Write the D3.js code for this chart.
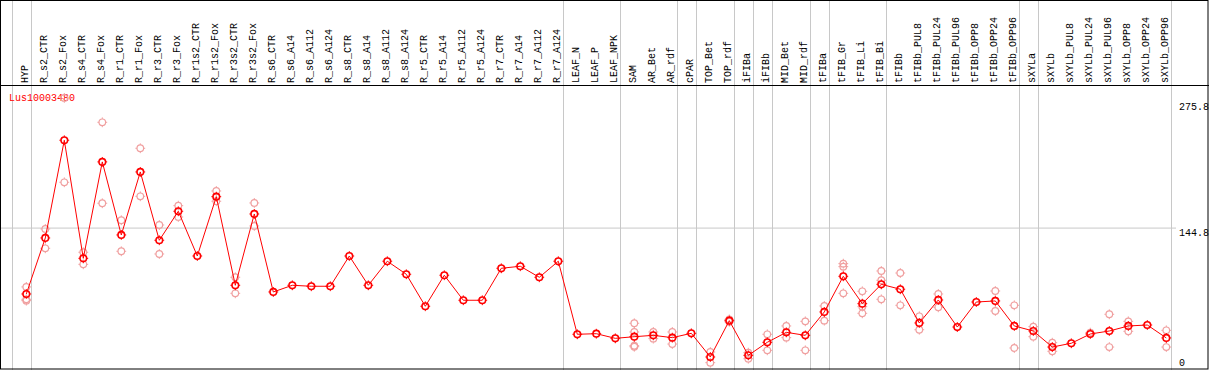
<!DOCTYPE html>
<html>
<head>
<meta charset="utf-8">
<script src="https://cdn.jsdelivr.net/npm/d3@7"></script>
<style>
body { margin: 0; background: #fff; }
text { font-family: "Liberation Mono", "DejaVu Sans Mono", monospace; font-size: 10px; }
</style>
</head>
<body>
<div id="vis"></div>
<script>
var width = 1209, height = 370;

// categories (samples)
var samples = ["HYP","R_s2_CTR","R_s2_Fox","R_s4_CTR","R_s4_Fox","R_r1_CTR","R_r1_Fox","R_r3_CTR","R_r3_Fox",
  "R_r1s2_CTR","R_r1s2_Fox","R_r3s2_CTR","R_r3s2_Fox","R_s6_CTR","R_s6_A14","R_s6_A112","R_s6_A124",
  "R_s8_CTR","R_s8_A14","R_s8_A112","R_s8_A124","R_r5_CTR","R_r5_A14","R_r5_A112","R_r5_A124",
  "R_r7_CTR","R_r7_A14","R_r7_A112","R_r7_A124","LEAF_N","LEAF_P","LEAF_NPK","SAM","AR_Bet","AR_rdf",
  "cPAR","TOP_Bet","TOP_rdf","iFIBa","iFIBb","MID_Bet","MID_rdf","tFIBa","tFIB_Gr","tFIB_Li","tFIB_Bi",
  "tFIBb","tFIBb_PUL8","tFIBb_PUL24","tFIBb_PUL96","tFIBb_OPP8","tFIBb_OPP24","tFIBb_OPP96",
  "sXYLa","sXYLb","sXYLb_PUL8","sXYLb_PUL24","sXYLb_PUL96","sXYLb_OPP8","sXYLb_OPP24","sXYLb_OPP96"];

// mean expression per sample
var means = [76.6,134.6,235.7,113.5,213.3,137.7,202.9,132.2,162.2,115.9,177.3,85.6,159.4,
  78.7,85.6,84.6,84.6,115.9,85.6,110.5,97.0,63.9,96.0,70.1,70.1,103.2,105.3,93.9,110.5,
  34.9,35.5,30.7,32.4,33.8,31.4,35.9,11.4,49.0,13.1,26.6,36.9,33.8,58.0,94.9,66.6,86.6,
  81.5,46.6,70.4,42.4,68.3,69.4,43.5,38.3,21.7,25.6,35.2,38.3,43.5,44.5,31.1];

// replicate values per sample
var reps = [[83.9,71.1,69.7],[143.9,123.9],[192.2,279.5],[119.8,107.3],[254.3,170.5],[152.9,120.8],
  [227.4,177.7],[148.0,118.0],[168.0,156.3],[],[183.2,172.6],[93.9,77.3],[170.8,147.0],
  [],[],[],[],[],[],[],[],[],[],[],[],[],[],[],[],[],[],[],
  [46.3,37.3,23.1,22.0],[37.3,30.4],[37.3,24.8],[],[16.6,5.5],[50.3,47.8],[15.9,9.6],[34.9,18.3],
  [43.5,31.4],[48.3,18.3],[64.2,49.0],[108.0,104.9,77.3],[79.4,63.5,56.6],[100.4,90.8,71.1],
  [98.3,64.9],[53.5,39.6],[76.6,62.8],[],[],[79.7,59.0],[64.9,20.7],[42.8,32.4],[26.2,17.3],
  [],[36.6],[55.6,21.7],[48.3,38.0],[],[39.0,21.7]];

// last sample index of each tissue group (-1 = left edge)
var groupEnds = [-1,0,28,31,34,35,37,38,39,41,42,45,52,53,60];

var yTicks = [0,144.8,275.8];
var gene = "Lus10003480";

var svg = d3.select("#vis").append("svg")
  .attr("width", width).attr("height", height);

var xScale = d3.scaleLinear().domain([0, samples.length-1]).range([26.3, 1166.3]);
var yScale = d3.scaleLinear().domain([0, 275.8]).range([368, 101.5]);

//网格线
svg.append("line")
  .attr("x1", 0).attr("x2", 1176)
  .attr("y1", yScale(144.8)).attr("y2", yScale(144.8))
  .style("stroke", "#c8c8c8");

svg.selectAll(".vgrid").data(groupEnds).enter().append("line")
  .attr("x1", function(d){ return Math.round(xScale(d)+4.2)+0.5; })
  .attr("x2", function(d){ return Math.round(xScale(d)+4.2)+0.5; })
  .attr("y1", 0).attr("y2", height)
  .style("stroke", "#c8c8c8");

// rotated sample labels
svg.selectAll(".lab").data(samples).enter().append("text")
  .attr("transform", function(d, i){ return "translate(" + (xScale(i)+1.5) + ",83) rotate(-90)"; })
  .text(function(d){ return d; });

// y labels on the right
svg.selectAll(".ylab").data(yTicks).enter().append("text")
  .attr("x", 1179)
  .attr("y", function(d){ return d == 0 ? 366 : yScale(d) + 8; })
  .text(function(d){ return d; });

svg.append("text")
  .attr("x", 9).attr("y", 101)
  .style("fill", "red")
  .text(gene);

// marker = circle with small ticks
function marker(g, cx, cy, color, sw) {
  var r = 3.3, t = 1.6;
  g.append("circle").attr("cx", cx).attr("cy", cy).attr("r", r)
    .style("fill", "none").style("stroke", color).style("stroke-width", sw);
  g.append("path")
    .attr("d", "M" + cx + "," + (cy-r) + "v" + (-t) + "M" + cx + "," + (cy+r) + "v" + t +
               "M" + (cx-r) + "," + cy + "h" + (-t) + "M" + (cx+r) + "," + cy + "h" + t)
    .style("stroke", color).style("stroke-width", 1);
}

//重复点
var gRep = svg.append("g");
reps.forEach(function(arr, i){
  arr.forEach(function(v){
    marker(gRep, xScale(i), yScale(v), "#f0a0a0", 1.2);
  });
});

//平均线
var line = d3.line()
  .x(function(d, i){ return xScale(i); })
  .y(function(d){ return yScale(d); });

svg.append("path").datum(means)
  .attr("d", line)
  .style("fill", "none").style("stroke", "red").style("stroke-width", 1);

var gMean = svg.append("g");
means.forEach(function(v, i){
  marker(gMean, xScale(i), yScale(v), "red", 1.6);
});

// borders
svg.append("line").attr("x1", 0).attr("x2", width).attr("y1", 85.5).attr("y2", 85.5).style("stroke", "black");
svg.append("rect").attr("x", 0.5).attr("y", 0.5).attr("width", 1207.5).attr("height", 368.5)
  .style("fill", "none").style("stroke", "black");
</script>
</body>
</html>
